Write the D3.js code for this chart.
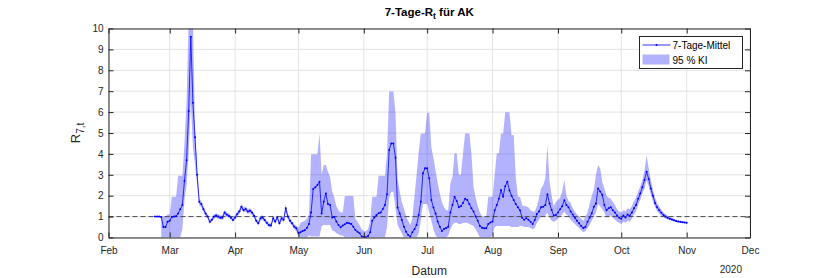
<!DOCTYPE html>
<html>
<head>
<meta charset="utf-8">
<script src="https://cdn.jsdelivr.net/npm/d3@7"></script>
<style>
  body { margin: 0; background: #fff; }
  svg { font-family: "Liberation Sans", Arial, Helvetica, sans-serif; }
  .axis path, .axis line { stroke: #262626; }
  .axis text { fill: #262626; font-size: 10px; }
</style>
</head>
<body>
<div id="chart"></div>
<script>
'use strict';

// first day of the series, one value per day after it
var startDay = new Date(2020, 1, 23);

var rMean = [
  1.0, 1.0, 1.0, 0.98, 0.5, 0.5, 0.75,
  0.8, 0.98, 1.0, 1.02, 1.15, 1.35, 1.55,
  2.7, 3.7, 6.05, 9.6, 6.45, 4.8, 3.0,
  1.7, 1.6, 1.35, 1.15, 1.0, 0.75, 0.85,
  1.0, 1.05, 1.0, 0.95, 0.95, 1.2, 1.1,
  1.04, 0.95, 0.84, 0.96, 1.12, 1.24, 1.47,
  1.31, 1.36, 1.24, 1.28, 1.2, 1.04, 0.8,
  0.68, 0.92, 0.96, 0.84, 0.7, 0.6, 0.57,
  0.92, 0.76, 0.96, 0.68, 0.92, 0.85, 1.4,
  1.0, 0.8, 0.68, 0.52, 0.44, 0.22, 0.25,
  0.31, 0.35, 0.45, 0.65, 1.2, 2.32, 2.4,
  2.51, 2.67, 1.15, 1.71, 2.11, 1.6, 1.55,
  0.96, 0.98, 0.76, 0.6, 0.49, 0.57, 0.63,
  0.7, 0.68, 0.65, 0.52, 0.36, 0.28, 0.2,
  0.05, 0.02, 0.01, 0.07, 0.25, 0.8, 0.96,
  1.08, 1.16, 1.2, 1.36, 1.55, 2.07, 4.19,
  4.5, 4.5, 3.82, 1.43, 1.15, 0.84, 0.52,
  0.28, 0.12, 0.04, 0.25, 0.4, 0.6, 1.08,
  1.71, 3.07, 3.31, 3.31, 2.83, 1.79, 1.43,
  1.15, 0.76, 0.52, 0.31, 0.41, 0.45, 0.52,
  1.2, 1.55, 1.95, 1.75, 1.45, 1.5, 1.65,
  1.85, 1.8, 1.6, 1.4, 1.24, 1.0, 0.8,
  0.55, 0.47, 0.44, 0.44, 0.65, 0.72, 0.76,
  1.3, 1.55, 1.85, 2.27, 1.95, 2.45, 2.67,
  2.25, 2.0, 1.8, 1.6, 1.45, 1.3, 0.95,
  0.85, 0.92, 0.85, 0.75, 0.65, 0.84, 1.12,
  1.24, 1.45, 1.47, 1.55, 2.07, 1.63, 1.31,
  1.05, 1.08, 1.2, 1.35, 1.5, 1.78, 1.55,
  1.45, 1.25, 1.1, 0.95, 0.8, 0.68, 0.55,
  0.46, 0.5, 0.75, 0.95, 1.16, 1.47, 1.63,
  2.35, 2.2, 2.05, 1.55, 1.3, 1.4, 1.45,
  1.3, 1.2, 1.05, 0.95, 0.9, 1.05, 0.96,
  1.1, 1.04, 1.2, 1.4, 1.55, 1.85, 2.1,
  2.4, 2.75, 3.15, 2.8, 2.35, 2.0, 1.65,
  1.45, 1.3, 1.18, 1.08, 1.0, 0.95, 0.9,
  0.86, 0.82, 0.79, 0.76, 0.75, 0.73, 0.72,
  0.7
];

var ciLow = [
  null, null, null, 0, 0, 0, 0,
  0, 0, 0, 0, 0, 0, 0.4,
  1.8, 2.5, 4.0, 6.5, 4.3, 3.5, 2.5,
  1.55, 1.45, 1.22, 1.03, 0.9, 0.65, 0.75,
  0.9, 0.94, 0.9, 0.85, 0.85, 1.08, 0.99,
  0.94, 0.85, 0.74, 0.86, 1.01, 1.12, 1.33,
  1.19, 1.24, 1.12, 1.16, 1.08, 0.93, 0.7,
  0.58, 0.81, 0.85, 0.74, 0.6, 0.5, 0.47,
  0.8, 0.65, 0.84, 0.57, 0.8, 0.73, 1.22,
  0.87, 0.68, 0.56, 0.4, 0.3, 0.05, 0.0,
  0, 0, 0, 0.1, 0.05, 0.05, 0.05,
  0.05, 0.05, 0.55, 0.6, 0.6, 0.6, 0.6,
  0.35, 0.3, 0.2, 0.15, 0.1, 0.1, 0,
  0, 0, 0, 0, 0, 0, 0,
  0, 0, 0, 0, 0, 0, 0,
  0, 0, 0, 0, 0, 0.5, 1.9,
  2.19, 2.19, 1.4, 0.6, 0.4, 0.2, 0,
  0, 0, 0, 0, 0, 0, 0.2,
  0.8, 1.6, 1.6, 1.6, 1.2, 0.8, 0.4,
  0.1, 0, 0, 0, 0, 0, 0.1,
  0.4, 0.6, 0.7, 0.7, 0.65, 0.65, 0.7,
  0.7, 0.7, 0.65, 0.6, 0.55, 0.4, 0.2,
  0, 0, 0, 0, 0, 0, 0.1,
  0.5, 0.55, 0.55, 0.55, 0.55, 0.55, 0.55,
  0.55, 0.5, 0.5, 0.5, 0.5, 0.55, 0.55,
  0.5, 0.5, 0.5, 0.45, 0.4, 0.45, 0.7,
  0.85, 1.0, 1.0, 1.05, 1.2, 0.95, 0.8,
  0.75, 0.8, 0.9, 1.0, 1.1, 1.25, 1.1,
  1.0, 0.85, 0.75, 0.65, 0.55, 0.45, 0.35,
  0.25, 0.3, 0.45, 0.6, 0.8, 1.0, 1.2,
  1.6, 1.5, 1.35, 1.2, 0.95, 1.0, 1.05,
  0.95, 0.85, 0.75, 0.7, 0.65, 0.75, 0.7,
  0.8, 0.75, 0.9, 1.1, 1.25, 1.55, 1.8,
  2.1, 2.35, 2.75, 2.45, 2.05, 1.75, 1.45,
  1.27, 1.14, 1.04, 0.96, 0.9, 0.86, 0.82,
  0.8, 0.77, 0.74, 0.71, 0.7, 0.69, 0.68,
  0.66
];

var ciHigh = [
  null, null, null, 1.0, 1.0, 1.0, 1.1,
  1.1, 1.95, 1.95, 1.95, 2.96, 2.96, 2.96,
  4.5, 6.5, 10.5, 13, 10.5, 5.2, 3.3,
  1.85, 1.75, 1.48, 1.27, 1.1, 0.85, 0.95,
  1.1, 1.16, 1.1, 1.05, 1.06, 1.32, 1.21,
  1.14, 1.05, 0.94, 1.07, 1.23, 1.36, 1.6,
  1.43, 1.48, 1.36, 1.4, 1.32, 1.15, 0.9,
  0.78, 1.03, 1.07, 0.94, 0.8, 0.7, 0.67,
  1.04, 0.87, 1.08, 0.79, 1.04, 0.97, 1.58,
  1.13, 0.92, 0.8, 0.64, 0.58, 0.45, 0.7,
  0.75, 0.8, 0.9, 1.1, 3.98, 3.98, 3.98,
  3.98, 4.98, 3.0, 3.47, 3.47, 3.15, 2.9,
  2.2, 1.9, 1.5, 1.3, 1.2, 1.2, 1.98,
  1.98, 1.98, 1.98, 1.98, 0.9, 0.75, 0.6,
  0.4, 0.3, 0.3, 0.4, 0.8, 1.95, 1.95,
  1.95, 2.96, 2.96, 2.96, 2.96, 4.0, 6.98,
  6.98, 6.98, 6.0, 2.8, 2.2, 1.7, 1.4,
  1.0, 0.8, 0.6, 0.9, 2.0, 3.0, 4.1,
  4.98, 4.98, 4.98, 5.97, 5.97, 4.3, 3.8,
  3.2, 2.6, 2.1, 1.7, 1.45, 1.3, 1.3,
  2.6, 2.9, 4.03, 4.03, 3.0, 3.0, 4.03,
  4.98, 4.98, 4.98, 4.0, 2.4, 1.9, 1.5,
  1.2, 1.0, 1.0, 1.0, 1.95, 1.95, 1.95,
  3.0, 4.03, 4.03, 4.98, 4.98, 5.99, 5.99,
  5.99, 4.9, 4.9, 2.9, 1.95, 1.95, 1.55,
  1.5, 1.5, 1.45, 1.3, 1.25, 1.25, 1.5,
  1.9, 2.35, 2.5, 2.83, 4.43, 2.7, 2.0,
  1.5, 1.7, 1.8, 1.9, 2.2, 2.75, 2.0,
  1.75, 1.65, 1.4, 1.25, 1.1, 1.0, 0.9,
  0.8, 1.0, 1.2, 1.6, 2.0, 2.3, 3.0,
  3.47, 3.3, 2.67, 2.35, 2.0, 1.9, 1.85,
  1.7, 1.55, 1.35, 1.25, 1.2, 1.3, 1.25,
  1.4, 1.35, 1.5, 1.75, 1.9, 2.2, 2.45,
  2.75, 3.2, 3.95, 3.3, 2.75, 2.3, 1.9,
  1.65, 1.47, 1.33, 1.2, 1.11, 1.04, 0.98,
  0.93, 0.88, 0.85, 0.81, 0.8, 0.77, 0.76,
  0.74
];

var yTicks = [0, 1, 2, 3, 4, 5, 6, 7, 8, 9, 10];
var xDomain = [new Date(2020, 1, 1), new Date(2020, 11, 1)];
var refLevel = 1;

var W = 830, H = 278;
var margin = {top: 28.5, right: 80, bottom: 40.5, left: 108.5},
  width = W - margin.left - margin.right,
  height = H - margin.top - margin.bottom;

var lineColor = "#0000ff";
var axisColor = "#262626";

var data = rMean.map(function (v, i) {
  return {date: d3.timeDay.offset(startDay, i), r: v, lo: ciLow[i], hi: ciHigh[i]};
});

var svg = d3.select("#chart").append("svg")
  .attr("width", W)
  .attr("height", H);

var g = svg.append("g")
  .attr("transform", "translate(" + margin.left + "," + margin.top + ")");

var x = d3.scaleTime().domain(xDomain).range([0, width]),
  y = d3.scaleLinear().domain([0, 10]).range([height, 0]);

g.append("clipPath").attr("id", "plotclip")
  .append("rect").attr("width", width).attr("height", height);

// grid
g.append("g").attr("class", "grid")
  .selectAll("line.gx").data(x.ticks(d3.timeMonth.every(1)))
  .enter().append("line")
  .attr("x1", (d) => x(d)).attr("x2", (d) => x(d))
  .attr("y1", 0).attr("y2", height)
  .attr("stroke", "#e3e3e3").attr("stroke-width", 1);

g.select(".grid")
  .selectAll("line.gy").data(yTicks)
  .enter().append("line")
  .attr("x1", 0).attr("x2", width)
  .attr("y1", (d) => y(d)).attr("y2", (d) => y(d))
  .attr("stroke", "#e3e3e3").attr("stroke-width", 1);

var plot = g.append("g").attr("clip-path", "url(#plotclip)");

// 95 % KI band
var band = d3.area()
  .defined((d) => d.lo != null)
  .x((d) => x(d.date))
  .y0((d) => y(d.lo))
  .y1((d) => y(d.hi));

plot.append("path")
  .datum(data)
  .attr("d", band)
  .attr("fill", lineColor)
  .attr("fill-opacity", 0.3)
  .attr("stroke", "none");

// reference line at R = 1
plot.append("line")
  .attr("x1", 0).attr("x2", width)
  .attr("y1", y(refLevel)).attr("y2", y(refLevel))
  .attr("stroke", "#4d4d4d")
  .attr("stroke-width", 1)
  .attr("stroke-dasharray", "5,3");

// 7-Tage-Mittel
var line = d3.line()
  .x((d) => x(d.date))
  .y((d) => y(d.r));

plot.append("path")
  .datum(data)
  .attr("d", line)
  .attr("fill", "none")
  .attr("stroke", lineColor)
  .attr("stroke-width", 0.8);

plot.append("g")
  .selectAll("circle").data(data)
  .enter().append("circle")
  .attr("cx", (d) => x(d.date))
  .attr("cy", (d) => y(d.r))
  .attr("r", 1)
  .attr("fill", lineColor);

// axes
var monthTicks = d3.timeMonth.every(1);

g.append("g").attr("class", "axis")
  .attr("transform", "translate(0," + height + ")")
  .call(d3.axisBottom(x).ticks(monthTicks).tickFormat(d3.timeFormat("%b"))
    .tickSizeInner(-5).tickSizeOuter(0).tickPadding(9))
  .selectAll("text").attr("font-size", 10);

g.append("g").attr("class", "axis")
  .call(d3.axisTop(x).ticks(monthTicks).tickFormat("")
    .tickSizeInner(-5).tickSizeOuter(0));

g.append("g").attr("class", "axis")
  .call(d3.axisLeft(y).tickValues(yTicks).tickFormat(d3.format("d"))
    .tickSizeInner(-5).tickSizeOuter(0).tickPadding(5));

g.append("g").attr("class", "axis")
  .attr("transform", "translate(" + width + ",0)")
  .call(d3.axisRight(y).tickValues(yTicks).tickFormat("")
    .tickSizeInner(-5).tickSizeOuter(0));

g.selectAll(".axis text").attr("font-family", null);

// labels
var title = svg.append("text")
  .attr("x", margin.left + width / 2)
  .attr("y", 16)
  .attr("text-anchor", "middle")
  .attr("font-weight", "bold")
  .attr("font-size", 11.5)
  .attr("fill", "#000");
title.append("tspan").text("7-Tage-R");
title.append("tspan").attr("dy", 3).attr("font-size", 8.5).text("t");
title.append("tspan").attr("dy", -3).text(" für AK");

svg.append("text")
  .attr("x", margin.left + width / 2)
  .attr("y", 275)
  .attr("text-anchor", "middle")
  .attr("font-size", 12)
  .attr("fill", axisColor)
  .text("Datum");

svg.append("text")
  .attr("x", margin.left + width - 8)
  .attr("y", 273)
  .attr("text-anchor", "end")
  .attr("font-size", 10)
  .attr("fill", axisColor)
  .text("2020");

var ylab = svg.append("text")
  .attr("transform", "translate(80," + (margin.top + height / 2) + ") rotate(-90)")
  .attr("text-anchor", "middle")
  .attr("font-size", 13)
  .attr("fill", axisColor);
ylab.append("tspan").text("R");
ylab.append("tspan").attr("dy", 4).attr("font-size", 10).text("7,t");

// legend
var legend = svg.append("g").attr("transform", "translate(639.5,36.5)");
legend.append("rect")
  .attr("width", 103).attr("height", 32)
  .attr("fill", "#fff").attr("stroke", axisColor).attr("stroke-width", 1);
legend.append("line")
  .attr("x1", 3).attr("x2", 31).attr("y1", 8.5).attr("y2", 8.5)
  .attr("stroke", lineColor).attr("stroke-width", 0.8);
legend.append("circle")
  .attr("cx", 17).attr("cy", 8.5).attr("r", 1).attr("fill", lineColor);
legend.append("text")
  .attr("x", 33).attr("y", 12).attr("font-size", 10).attr("fill", "#000")
  .text("7-Tage-Mittel");
legend.append("rect")
  .attr("x", 3).attr("y", 18).attr("width", 27).attr("height", 10)
  .attr("fill", lineColor).attr("fill-opacity", 0.3);
legend.append("text")
  .attr("x", 33).attr("y", 27).attr("font-size", 10).attr("fill", "#000")
  .text("95 % KI");
</script>
</body>
</html>
